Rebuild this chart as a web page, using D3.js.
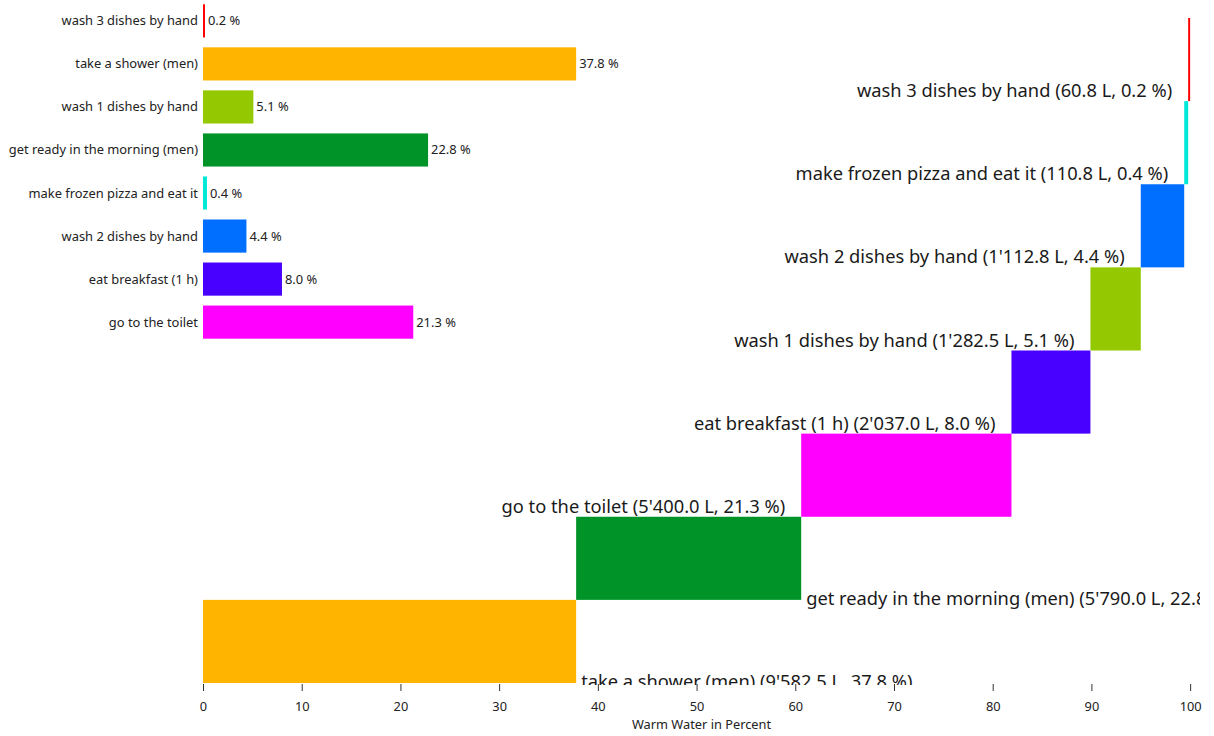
<!DOCTYPE html>
<html>
<head>
<meta charset="utf-8">
<script src="https://cdn.jsdelivr.net/npm/d3@7"></script>
<style>
  html, body { margin: 0; padding: 0; background: #fff; }
  svg { display: block; font-family: "Noto Sans", "Open Sans", sans-serif; }
</style>
</head>
<body>
<svg id="chart" width="1214" height="736"></svg>
<script>
// ---- data ----
const categories = [
  "wash 3 dishes by hand",
  "take a shower (men)",
  "wash 1 dishes by hand",
  "get ready in the morning (men)",
  "make frozen pizza and eat it",
  "wash 2 dishes by hand",
  "eat breakfast (1 h)",
  "go to the toilet"
];
const liters   = [60.8, 9582.5, 1282.5, 5790.0, 110.8, 1112.8, 2037.0, 5400.0];
const percents = [0.2, 37.8, 5.1, 22.8, 0.4, 4.4, 8.0, 21.3];
const colors   = ["#ff0000", "#ffb400", "#94c800", "#009428", "#00e8d8", "#006eff", "#4800ff", "#ff00ff"];
const xTicks   = [0, 10, 20, 30, 40, 50, 60, 70, 80, 90, 100];
const xTitle   = "Warm Water in Percent";

// ---- layout ----
const W = 1214, H = 736;
const margin = { left: 203, right: 14, top: 18, bottom: 52 };
const innerW = W - margin.left - margin.right;   // plot area width
const innerH = H - margin.top - margin.bottom;   // plot area height

const svg = d3.select("#chart");

const rows = categories.map((c, i) => ({ name: c, liters: liters[i], pct: percents[i], color: colors[i] }));

// shared x scale
const x = d3.scaleLinear().domain([0, 101]).range([0, innerW]);

const fmtL = d3.formatLocale({ decimal: ".", thousands: "'", grouping: [3], currency: ["", ""] }).format(",.1f");
const fmtP = d3.format(".1f");

// ---- staircase (main chart) ----
const stairs = rows.slice().sort((a, b) => b.pct - a.pct);
let acc = 0;
stairs.forEach(d => { d.start = acc; acc += d.pct; d.end = acc; });

const yStep = d3.scaleBand()
  .domain(stairs.map(d => d.name).reverse())
  .range([0, innerH - 1])
  .padding(0);

svg.append("defs").append("clipPath").attr("id", "plotClip")
  .append("rect").attr("x", -margin.left).attr("y", -margin.top)
  .attr("width", innerW + margin.left).attr("height", innerH + margin.top + 1);

const main = svg.append("g").attr("transform", `translate(${margin.left},${margin.top})`);
const plot = main.append("g").attr("clip-path", "url(#plotClip)");

plot.selectAll("rect.step").data(stairs).join("rect")
  .attr("class", "step")
  .attr("x", d => x(d.start))
  .attr("width", d => Math.max(1, x(d.end) - x(d.start)))
  .attr("y", d => yStep(d.name))
  .attr("height", yStep.bandwidth())
  .attr("fill", d => d.color);

plot.selectAll("text.steplabel").data(stairs).join("text")
  .attr("class", "steplabel")
  .attr("x", d => d.start < 50 ? x(d.end) + 5 : x(d.start) - 16)
  .attr("y", d => yStep(d.name) + yStep.bandwidth() + (d.start < 50 ? 5 : -4))
  .attr("text-anchor", d => d.start < 50 ? "start" : "end")
  .attr("font-size", 18.3)
  .attr("fill", "#1a1a1a")
  .text(d => `${d.name} (${fmtL(d.liters)} L, ${fmtP(d.pct)} %)`);

// x axis
const axis = main.append("g")
  .attr("transform", `translate(0,${innerH})`)
  .call(d3.axisBottom(x).tickValues(xTicks).tickSize(7).tickPadding(11).tickFormat(d3.format("d")));
axis.select(".domain").remove();
axis.selectAll(".tick line").attr("stroke", "#333");
axis.selectAll(".tick text").attr("font-size", 12.8).attr("fill", "#222")
  .attr("font-family", "\"Noto Sans\", sans-serif");

main.append("text")
  .attr("x", innerW / 2)
  .attr("y", innerH + 45)
  .attr("text-anchor", "middle")
  .attr("font-size", 12.8)
  .attr("fill", "#222")
  .text(xTitle);

// ---- small overview bar chart (top-left) ----
const yBar = d3.scaleBand()
  .domain(categories)
  .range([0, 343])
  .paddingInner(0.23)
  .paddingOuter(0.1);

const small = svg.append("g").attr("transform", `translate(${margin.left},0)`);

small.selectAll("rect").data(rows).join("rect")
  .attr("x", 0)
  .attr("y", d => yBar(d.name))
  .attr("width", d => Math.max(1.5, x(d.pct)))
  .attr("height", yBar.bandwidth())
  .attr("fill", d => d.color);

small.selectAll("text.cat").data(rows).join("text")
  .attr("class", "cat")
  .attr("x", -5)
  .attr("y", d => yBar(d.name) + yBar.bandwidth() / 2)
  .attr("dy", "0.35em")
  .attr("text-anchor", "end")
  .attr("font-size", 12.9)
  .attr("fill", "#222")
  .text(d => d.name);

small.selectAll("text.val").data(rows).join("text")
  .attr("class", "val")
  .attr("x", d => Math.max(1.5, x(d.pct)) + 3)
  .attr("y", d => yBar(d.name) + yBar.bandwidth() / 2)
  .attr("dy", "0.35em")
  .attr("font-size", 12.9)
  .attr("fill", "#222")
  .text(d => `${fmtP(d.pct)} %`);
</script>
</body>
</html>
